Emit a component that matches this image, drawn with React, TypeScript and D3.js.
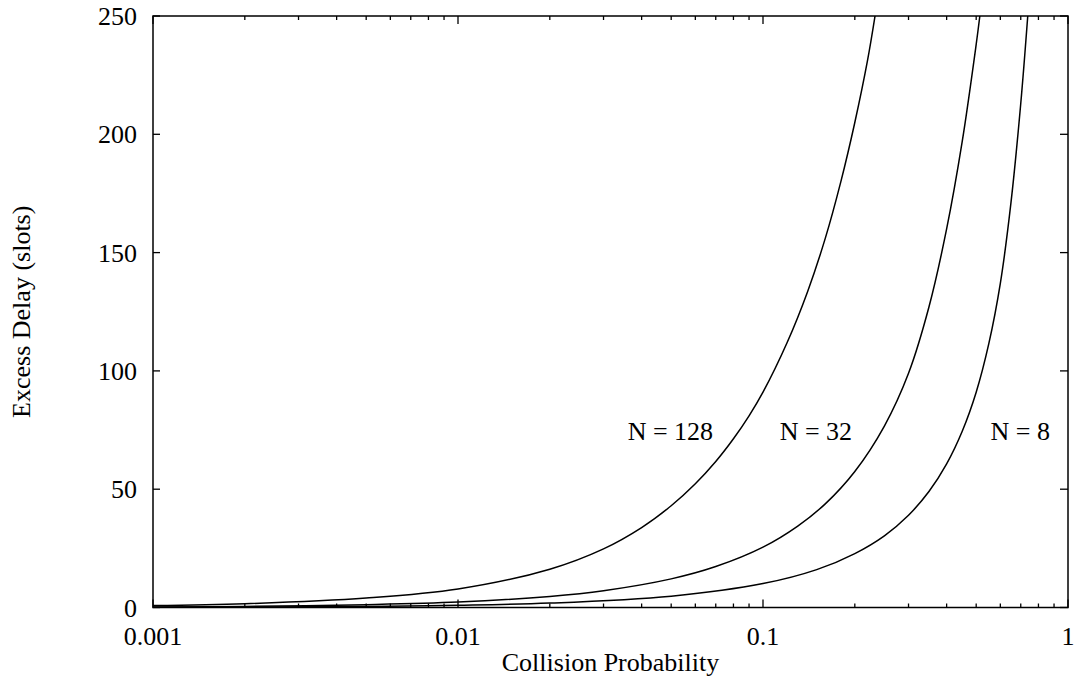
import React from "react";
import * as d3 from "d3";

const probN128 = [0.001, 0.002, 0.005, 0.01, 0.02, 0.03, 0.04, 0.05, 0.06, 0.07, 0.08, 0.09, 0.1, 0.12, 0.14, 0.16, 0.18, 0.2, 0.22, 0.233];
const delayN128 = [0.8, 1.6, 4.0, 7.8, 16.2, 24.8, 33.8, 43, 52.3, 61.7, 71.3, 81, 91, 112, 133.5, 156, 180, 205, 231, 250];

const probN32 = [0.001, 0.002, 0.005, 0.01, 0.02, 0.03, 0.05, 0.07, 0.1, 0.13, 0.16, 0.2, 0.25, 0.3, 0.35, 0.4, 0.45, 0.5, 0.514];
const delayN32 = [0.23, 0.46, 1.2, 2.3, 4.7, 7.1, 12.1, 17.3, 25.5, 34.4, 43.8, 57.5, 76.7, 99, 127, 160, 197, 238, 250];

const probN8 = [0.001, 0.002, 0.005, 0.01, 0.02, 0.05, 0.1, 0.15, 0.2, 0.25, 0.3, 0.35, 0.4, 0.45, 0.5, 0.55, 0.6, 0.65, 0.7, 0.738];
const delayN8 = [0.09, 0.18, 0.46, 0.92, 1.86, 4.8, 10.1, 16, 22.8, 30.3, 39, 49, 60.7, 74.5, 91, 111.5, 137, 171, 213, 250];

const seriesNames = ["N = 128", "N = 32", "N = 8"];
const labelProb = [0.0686, 0.196, 0.873];
const labelDelay = [71, 71, 71];

const xTickValues = [0.001, 0.01, 0.1, 1];
const xTickLabels = ["0.001", "0.01", "0.1", "1"];
const yTickValues = [0, 50, 100, 150, 200, 250];

const W = 1076, H = 681;
const M = { left: 153, right: 1068, top: 16, bottom: 607.5 };

export default function App() {
  const x = d3.scaleLog().domain([0.001, 1]).range([M.left, M.right]);
  const y = d3.scaleLinear().domain([0, 250]).range([M.bottom, M.top]);
  const series = [
    { p: probN128, v: delayN128 },
    { p: probN32, v: delayN32 },
    { p: probN8, v: delayN8 },
  ];
  const line = d3
    .line<[number, number]>()
    .x((d) => x(d[0]))
    .y((d) => y(d[1]))
    .curve(d3.curveCatmullRom.alpha(0.5));

  const minor: number[] = [];
  for (let e = -3; e < 0; e++) {
    for (let k = 2; k <= 9; k++) minor.push(k * Math.pow(10, e));
  }
  const font = "'Liberation Serif', 'Times New Roman', serif";

  return (
    <svg width={W} height={H} style={{ position: "absolute", left: 0, top: 0, background: "#fff" }}>
      <defs>
        <clipPath id="plot">
          <rect x={M.left} y={M.top} width={M.right - M.left} height={M.bottom - M.top} />
        </clipPath>
      </defs>
      <rect x={0} y={0} width={W} height={H} fill="#fff" />
      <g stroke="#000" strokeWidth={1.3}>
        {xTickValues.map((t) => (
          <g key={"xm" + t}>
            <line x1={x(t)} x2={x(t)} y1={M.bottom} y2={M.bottom - 8} />
            <line x1={x(t)} x2={x(t)} y1={M.top} y2={M.top + 8} />
          </g>
        ))}
        {minor.map((t) => (
          <g key={"xn" + t}>
            <line x1={x(t)} x2={x(t)} y1={M.bottom} y2={M.bottom - 4} />
            <line x1={x(t)} x2={x(t)} y1={M.top} y2={M.top + 4} />
          </g>
        ))}
        {yTickValues.map((t) => (
          <g key={"y" + t}>
            <line x1={M.left} x2={M.left + 7} y1={y(t)} y2={y(t)} />
            <line x1={M.right} x2={M.right - 8} y1={y(t)} y2={y(t)} />
          </g>
        ))}
      </g>
      <g clipPath="url(#plot)" fill="none" stroke="#000" strokeWidth={1.5}>
        {series.map((s, i) => (
          <path key={i} d={line(s.p.map((p, j) => [p, s.v[j]] as [number, number])) || ""} />
        ))}
      </g>
      <rect x={M.left} y={M.top} width={M.right - M.left} height={M.bottom - M.top} fill="none" stroke="#000" strokeWidth={1.5} />
      <g fontFamily={font} fontSize={26} fill="#000">
        {xTickValues.map((t, i) => (
          <text key={"xl" + t} x={x(t)} y={645} textAnchor="middle">
            {xTickLabels[i]}
          </text>
        ))}
        {yTickValues.map((t) => (
          <text key={"yl" + t} x={137} y={y(t) + 9} textAnchor="end">
            {t}
          </text>
        ))}
        {seriesNames.map((n, i) => (
          <text key={n} x={x(labelProb[i])} y={y(labelDelay[i])} textAnchor="end">
            {n}
          </text>
        ))}
        <text x={(M.left + M.right) / 2} y={671} textAnchor="middle">
          Collision Probability
        </text>
        <text transform={`translate(${30},${(M.top + M.bottom) / 2}) rotate(-90)`} textAnchor="middle">
          Excess Delay (slots)
        </text>
      </g>
    </svg>
  );
}
